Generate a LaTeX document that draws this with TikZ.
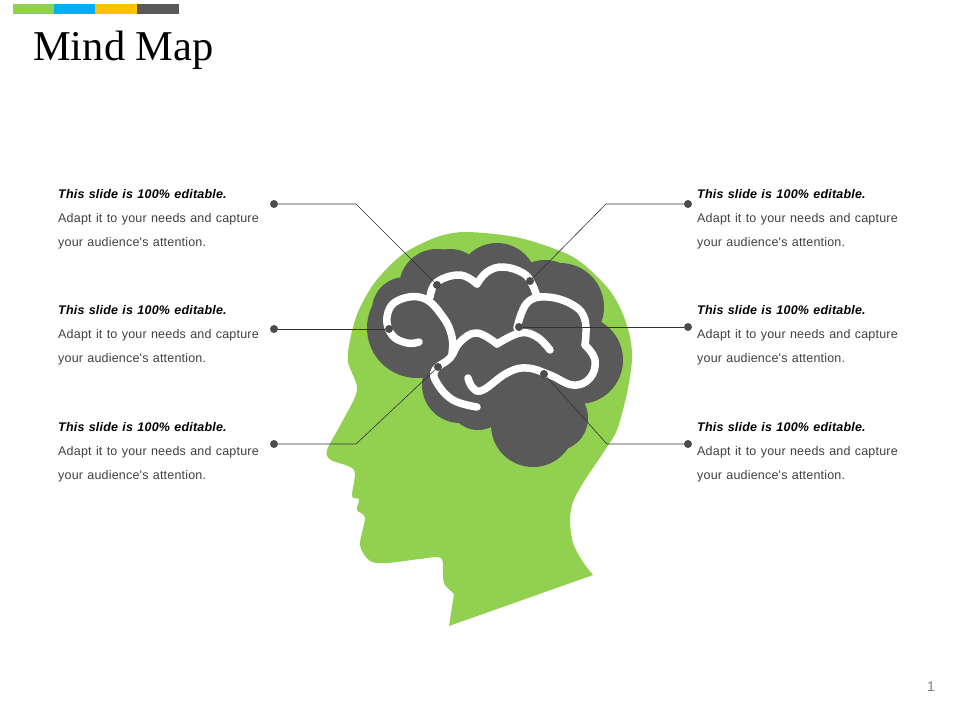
\documentclass[tikz,border=0pt]{standalone}
\usepackage{fontspec}
\setmainfont{Liberation Sans}
\newfontfamily\titlefont{Liberation Serif}
\newfontfamily\notefont[LetterSpace=1.5,WordSpace=1.2]{Liberation Sans}
\definecolor{headgreen}{HTML}{92D050}
\definecolor{brandblue}{HTML}{00B0F0}
\definecolor{brandyellow}{HTML}{FFC000}
\definecolor{braingray}{HTML}{595959}
\tikzset{
	leader/.style = {draw = black!80, line width = 0.6pt},
	spot/.style = {circle, fill = braingray!85!black, inner sep = 0pt, minimum size = 8pt},
	sulcus/.style = {draw = white, line width = 7.5pt, line cap = round, line join = round},
	note/.style = {inner sep = 0pt, anchor = north west, align = left, text = black!75, font = \notefont\fontsize{12.5}{24}\selectfont}
}
\newcommand{\notetext}{{\color{black}\bfseries\itshape This slide is 100\% editable.}\\Adapt it to your needs and capture\\your audience's attention.}

\begin{document}
\begin{tikzpicture}[x = 1pt, y = -1pt]
		\useasboundingbox (0,0) rectangle (960,720);
		
		\fill [headgreen] (13,4) rectangle (54,14);
		\fill [brandblue] (54,4) rectangle (95,14);
		\fill [brandyellow] (95,4) rectangle (137,14);
		\fill [braingray] (137,4) rectangle (179,14);
		\node (title) [inner sep = 0pt, anchor = base west, font = \titlefont\fontsize{42.5}{43}\selectfont] at (33,60) {Mind Map};
		\node (pagenum) [text = black!50, font = \fontsize{14}{14}\selectfont] at (931,687) {1};
		
		% head
		\fill [headgreen] plot [smooth, tension = .5] coordinates {(593,575) (583,562) (573,543) (570,520) (573,502) (583,483) (603,453) (617,430) (627,393) (632,360) (630,337) (622,312) (607,287) (573,257) (520,238) (467,232) (437,237) (403,254) (375,282) (358,312) (350,340) (348,362) (357,390) (342,422) (327,450) (331,460) (354,470) (352,496) (359,499) (357,510) (365,518) (360,545) (370,561) (387,563) (420,559) (441,558) (443,577) (445,585) (454,594)} -- (449,626) -- cycle;
		
		% brain
		\foreach \cx/\cy/\rad in {417/328/50, 405/310/33, 437/287/38, 450/285/36, 497/283/40, 545/300/40, 560/307/44, 579/360/44, 460/385/38, 478/400/30, 533/425/42, 555/418/33}
			\fill [braingray] (\cx,\cy) circle (\rad);
		\fill [braingray] (437,287) -- (497,283) -- (560,307) -- (579,360) -- (555,418) -- (533,425) -- (460,385) -- (417,328) -- cycle;
		
		\draw [sulcus] plot [smooth, tension = .7] coordinates {(419,342) (407,343) (392,335) (387,317) (397,301) (423,298) (443,317) (452,337) (452,353)};
		\draw [sulcus] plot [smooth, tension = .7] coordinates {(430,297) (437,282) (460,275) (477,284)};
		\draw [sulcus] plot [smooth, tension = .7] coordinates {(477,284) (487,272) (503,267) (523,273) (532,284) (537,297)};
		\draw [sulcus] plot [smooth, tension = .7] coordinates {(517,328) (527,303) (547,297) (573,305) (585,320) (585,345)};
		\draw [sulcus] plot [smooth, tension = .7] coordinates {(585,345) (595,360) (590,378) (573,385) (550,375) (527,368) (507,373) (483,390) (473,388) (468,378)};
		\draw [sulcus] plot [smooth, tension = .7] coordinates {(477,407) (453,400) (437,383) (435,370) (450,358) (460,342) (477,333) (497,344)};
		\draw [sulcus] plot [smooth, tension = .7] coordinates {(497,344) (520,333) (537,337) (550,350)};
		
		% left notes
		\node (noteA) [note] at (58,189) {\notetext};
		\node (noteB) [note] at (58,305) {\notetext};
		\node (noteC) [note] at (58,422) {\notetext};
		% right notes
		\node (noteD) [note] at (697,189) {\notetext};
		\node (noteE) [note] at (697,305) {\notetext};
		\node (noteF) [note] at (697,422) {\notetext};
		
		\node (tipA) [spot] at (274,204) {};
		\node (tipB) [spot] at (274,329) {};
		\node (tipC) [spot] at (274,444) {};
		\node (tipD) [spot] at (688,204) {};
		\node (tipE) [spot] at (688,327) {};
		\node (tipF) [spot] at (688,444) {};
		
		\node (spotA) [spot] at (437,285) {};
		\node (spotB) [spot] at (389,329) {};
		\node (spotC) [spot] at (438,367) {};
		\node (spotD) [spot] at (530,281) {};
		\node (spotE) [spot] at (519,327) {};
		\node (spotF) [spot] at (544,374) {};
		
		\coordinate (bendA) at (356,204);
		\coordinate (bendC) at (356,444);
		\coordinate (bendD) at (606,204);
		\coordinate (bendF) at (607,444);
		
		\draw [leader] (tipA) -- (bendA) -- (spotA);
		\draw [leader] (tipB) -- (spotB);
		\draw [leader] (tipC) -- (bendC) -- (spotC);
		\draw [leader] (tipD) -- (bendD) -- (spotD);
		\draw [leader] (tipE) -- (spotE);
		\draw [leader] (tipF) -- (bendF) -- (spotF);
\end{tikzpicture}
\end{document}
